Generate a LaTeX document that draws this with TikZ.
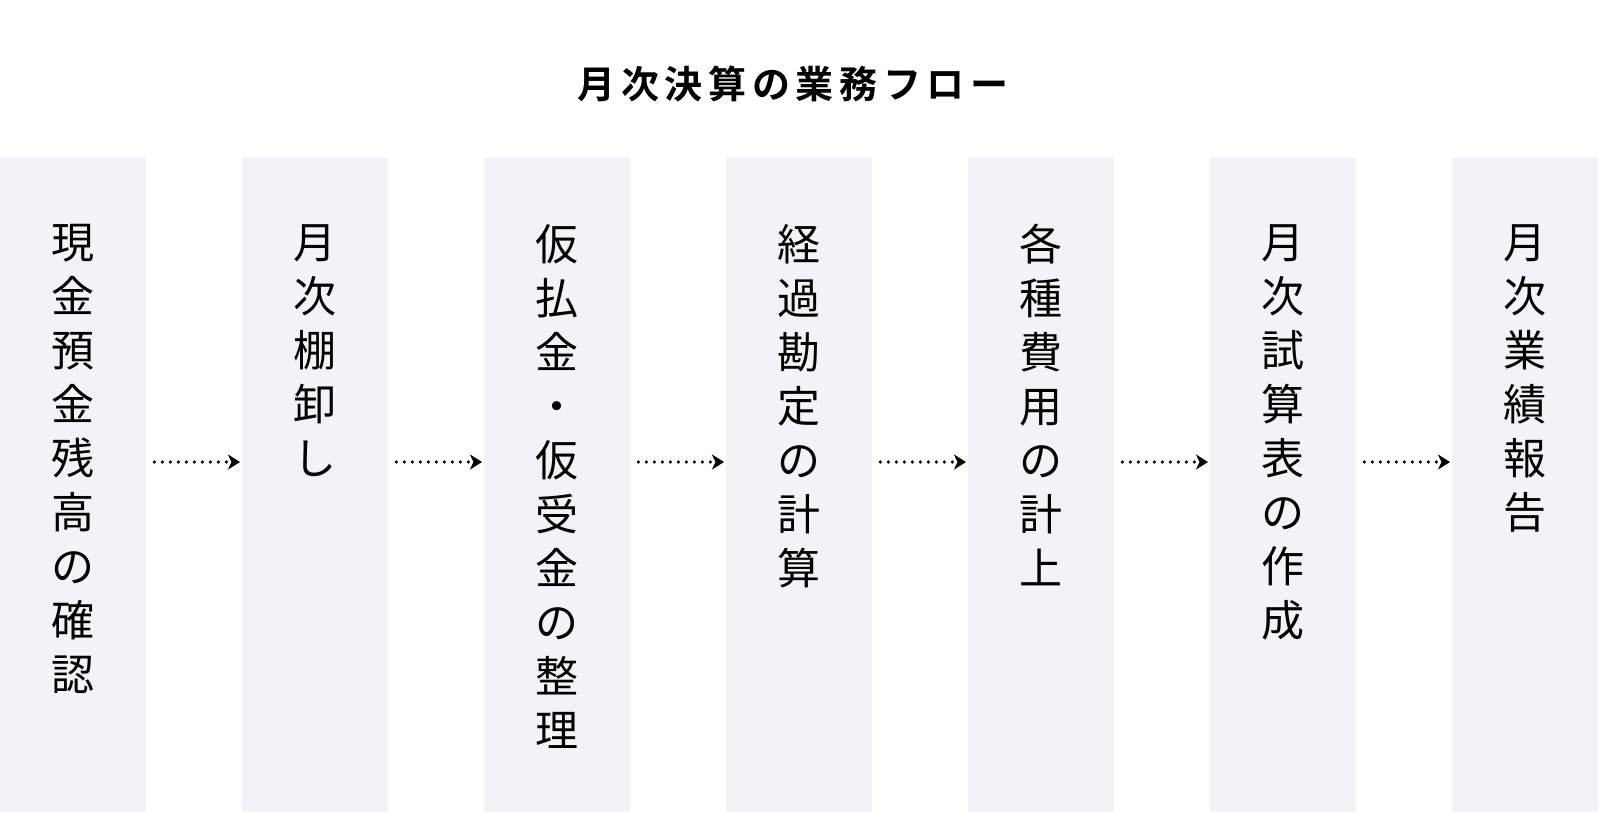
\documentclass[tikz,border=0pt]{standalone}
\usepackage{fontspec}
\usetikzlibrary{arrows.meta}
\newfontfamily\cjk{Noto Sans CJK JP}
\newfontfamily\cjkbold[LetterSpace=15]{Noto Sans CJK JP Bold}
\definecolor{colfill}{HTML}{F2F3F8}
\begin{document}
\begin{tikzpicture}[x=1pt,y=1pt,
  col/.style={fill=colfill,draw=none,minimum width=146pt,minimum height=655pt,inner sep=0pt,anchor=north west},
  vtext/.style={font=\cjk\fontsize{43}{54}\selectfont,align=center,anchor=north,inner sep=0pt},
  flow/.style={line width=3.6pt,line cap=round,dash pattern=on 0pt off 8pt,-{Stealth[length=12pt,width=15pt,inset=3.5pt,line cap=butt]}}
]
\useasboundingbox (0,0) rectangle (1600,-812);
\node[font=\cjkbold\fontsize{38}{44}\selectfont,inner sep=0pt] (title) at (793,-84) {月次決算の業務フロー};
\node[col] (c1) at (0,-157) {};
\node[col] (c2) at (242,-157) {};
\node[col] (c3) at (484,-157) {};
\node[col] (c4) at (726,-157) {};
\node[col] (c5) at (968,-157) {};
\node[col] (c6) at (1210,-157) {};
\node[col] (c7) at (1452,-157) {};
\node[vtext] (t1) at (73,-224) {現\\金\\預\\金\\残\\高\\の\\確\\認};
\node[vtext] (t2) at (315,-224) {月\\次\\棚\\卸\\し};
\node[vtext] (t3) at (557,-224) {仮\\払\\金\\・\\仮\\受\\金\\の\\整\\理};
\node[vtext] (t4) at (799,-224) {経\\過\\勘\\定\\の\\計\\算};
\node[vtext] (t5) at (1041,-224) {各\\種\\費\\用\\の\\計\\上};
\node[vtext] (t6) at (1283,-224) {月\\次\\試\\算\\表\\の\\作\\成};
\node[vtext] (t7) at (1525,-224) {月\\次\\業\\績\\報\\告};
\foreach \a/\b in {c1/c2,c2/c3,c3/c4,c4/c5,c5/c6,c6/c7}{
  \draw[flow] ([xshift=8pt]\a.north east |- 0,-462) -- ([xshift=-2pt]\b.north west |- 0,-462);
}
\end{tikzpicture}
\end{document}
